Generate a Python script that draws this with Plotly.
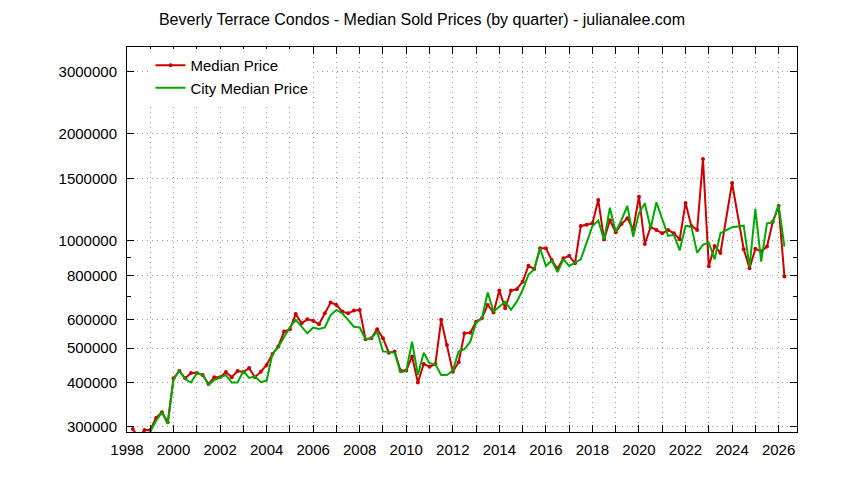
import math
import plotly.graph_objects as go

# ---- data ----
median_x = [1998.25, 1998.5, 1998.75, 1999.0, 1999.25, 1999.5, 1999.75,
            2000.0, 2000.25, 2000.5, 2000.75, 2001.0, 2001.25, 2001.5, 2001.75,
            2002.0, 2002.25, 2002.5, 2002.75, 2003.0, 2003.25, 2003.5, 2003.75,
            2004.0, 2004.25, 2004.5, 2004.75, 2005.0, 2005.25, 2005.5, 2005.75,
            2006.0, 2006.25, 2006.5, 2006.75, 2007.0, 2007.25, 2007.5, 2007.75,
            2008.0, 2008.25, 2008.5, 2008.75, 2009.0, 2009.25, 2009.5, 2009.75,
            2010.0, 2010.25, 2010.5, 2010.75, 2011.0, 2011.25, 2011.5, 2011.75,
            2012.0, 2012.25, 2012.5, 2012.75, 2013.0, 2013.25, 2013.5, 2013.75,
            2014.0, 2014.25, 2014.5, 2014.75, 2015.0, 2015.25, 2015.5, 2015.75,
            2016.0, 2016.25, 2016.5, 2016.75, 2017.0, 2017.25, 2017.5, 2017.75,
            2018.0, 2018.25, 2018.5, 2018.75, 2019.0, 2019.25, 2019.5, 2019.75,
            2020.0, 2020.25, 2020.5, 2020.75, 2021.0, 2021.25, 2021.5, 2021.75,
            2022.0, 2022.25, 2022.5, 2022.75, 2023.0, 2023.25, 2023.5,
            2024.0, 2024.5, 2024.75, 2025.0, 2025.25, 2025.5, 2025.75,
            2026.0, 2026.25]
median_price = [296000, 280000, 294000, 294000, 318000, 330000, 309000,
                411000, 431000, 411000, 425000, 425000, 420000, 396000, 414000,
                414000, 428000, 414000, 431000, 428000, 439000, 414000, 429000,
                448000, 481000, 505000, 556000, 565000, 623000, 587000, 602000,
                597000, 583000, 626000, 671000, 661000, 633000, 626000, 637000,
                640000, 529000, 533000, 565000, 533000, 485000, 489000, 432000,
                432000, 473000, 400000, 451000, 443000, 450000, 600000, 510000,
                429000, 456000, 550000, 552000, 593000, 606000, 661000, 629000,
                725000, 647000, 725000, 732000, 768000, 851000, 834000, 954000,
                954000, 884000, 835000, 894000, 908000, 866000, 1102000, 1111000,
                1121000, 1304000, 1010000, 1143000, 1058000, 1116000, 1158000, 1079000,
                1332000, 981000, 1093000, 1074000, 1051000, 1074000, 1051000, 1011000,
                1278000, 1102000, 1074000, 1700000, 849000, 968000, 925000,
                1455000, 948000, 838000, 950000, 935000, 964000, 1133000,
                1254000, 794000]

city_x = [1999.0, 1999.25, 1999.5, 1999.75,
          2000.0, 2000.25, 2000.5, 2000.75, 2001.0, 2001.25, 2001.5, 2001.75,
          2002.0, 2002.25, 2002.5, 2002.75, 2003.0, 2003.25, 2003.5, 2003.75,
          2004.0, 2004.25, 2004.5, 2004.75, 2005.0, 2005.25, 2005.5, 2005.75,
          2006.0, 2006.25, 2006.5, 2006.75, 2007.0, 2007.25, 2007.5, 2007.75,
          2008.0, 2008.25, 2008.5, 2008.75, 2009.0, 2009.25, 2009.5, 2009.75,
          2010.0, 2010.25, 2010.5, 2010.75, 2011.0, 2011.25, 2011.5, 2011.75,
          2012.0, 2012.25, 2012.5, 2012.75, 2013.0, 2013.25, 2013.5, 2013.75,
          2014.0, 2014.25, 2014.5, 2014.75, 2015.0, 2015.25, 2015.5, 2015.75,
          2016.0, 2016.25, 2016.5, 2016.75, 2017.0, 2017.25, 2017.5, 2017.75,
          2018.0, 2018.25, 2018.5, 2018.75, 2019.0, 2019.25, 2019.5, 2019.75,
          2020.0, 2020.25, 2020.5, 2020.75, 2021.0, 2021.25, 2021.5, 2021.75,
          2022.0, 2022.25, 2022.5, 2022.75, 2023.0, 2023.25, 2023.5,
          2024.0, 2024.5, 2024.75, 2025.0, 2025.25, 2025.5, 2025.75,
          2026.0, 2026.25]
city_median_price = [291000, 312000, 330000, 306000,
                     409000, 431000, 409000, 400000, 425000, 421000, 394000, 406000,
                     413000, 420000, 400000, 400000, 430000, 412000, 416000, 401000,
                     405000, 481000, 503000, 538000, 572000, 600000, 574000, 550000,
                     571000, 566000, 571000, 619000, 640000, 626000, 600000, 574000,
                     571000, 529000, 533000, 556000, 489000, 487000, 485000, 427000,
                     431000, 521000, 420000, 485000, 453000, 450000, 420000, 420000,
                     432000, 489000, 496000, 521000, 589000, 606000, 716000, 633000,
                     654000, 675000, 640000, 675000, 728000, 803000, 833000, 954000,
                     850000, 880000, 817000, 888000, 851000, 869000, 888000, 989000,
                     1102000, 1141000, 1006000, 1240000, 1062000, 1146000, 1254000, 1028000,
                     1196000, 1276000, 1086000, 1284000, 1146000, 1033000, 1040000, 941000,
                     1102000, 1097000, 927000, 975000, 989000, 888000, 1051000,
                     1093000, 1104000, 844000, 1230000, 875000, 1121000, 1127000,
                     1262000, 964000]

y_tick_values = [300000, 400000, 500000, 600000, 800000, 1000000, 1500000, 2000000, 3000000]
y_tick_labels = [str(v) for v in y_tick_values]
y_minor_values = [700000, 900000]

FONT = "Liberation Sans"
RED = "#cc0000"
GREEN = "#00a800"
GRID = "#999999"

# the page body has an 8px margin, so the figure is sized to fit the window
W, H = 836, 472

fig = go.Figure()
fig.add_trace(go.Scatter(
    x=median_x, y=median_price, name="Median Price",
    mode="lines+markers",
    line=dict(color=RED, width=2),
    marker=dict(color=RED, size=4, symbol="circle"),
))
fig.add_trace(go.Scatter(
    x=city_x, y=city_median_price, name="City Median Price",
    mode="lines",
    line=dict(color=GREEN, width=2),
))

fig.update_layout(
    width=W, height=H,
    margin=dict(l=119, r=47, t=39, b=48),
    paper_bgcolor="white", plot_bgcolor="white",
    font=dict(family=FONT, size=15, color="black"),
    title=dict(
        text="Beverly Terrace Condos - Median Sold Prices (by quarter) - julianalee.com",
        x=414 / W, xref="container", xanchor="center",
        y=1 - 11 / H, yref="container", yanchor="middle",
        font=dict(family=FONT, size=16, color="black"),
    ),
    showlegend=True,
    legend=dict(
        x=0.035, y=0.995, xanchor="left", yanchor="top",
        bgcolor="white", borderwidth=0,
        font=dict(family=FONT, size=15, color="black"),
        tracegroupgap=0,
    ),
)

fig.update_xaxes(
    range=[1998, 2026.79],
    tickmode="linear", tick0=1998, dtick=2,
    ticks="inside", ticklen=7, tickwidth=1, tickcolor="black",
    showline=True, linecolor="black", linewidth=1, mirror="ticks",
    showgrid=True, gridcolor=GRID, griddash="1px,4px", gridwidth=1,
    zeroline=False,
    tickfont=dict(family=FONT, size=15, color="black"),
    ticklabelstandoff=4,
    minor=dict(tickmode="linear", tick0=1999, dtick=2, ticks="inside", ticklen=7,
               tickcolor="black", showgrid=True, gridcolor=GRID, griddash="1px,4px",
               gridwidth=1),
)

fig.update_yaxes(
    type="log",
    range=[math.log10(290300), math.log10(3510000)],
    tickmode="array", tickvals=y_tick_values, ticktext=y_tick_labels,
    ticks="inside", ticklen=7, tickwidth=1, tickcolor="black",
    showline=True, linecolor="black", linewidth=1, mirror="ticks",
    showgrid=True, gridcolor=GRID, griddash="1px,4px", gridwidth=1,
    zeroline=False,
    tickfont=dict(family=FONT, size=15, color="black"),
    ticklabelstandoff=6,
    minor=dict(tickmode="array", tickvals=y_minor_values, ticks="inside", ticklen=4,
               tickcolor="black", showgrid=False),
)

fig.write_html("out.html")
